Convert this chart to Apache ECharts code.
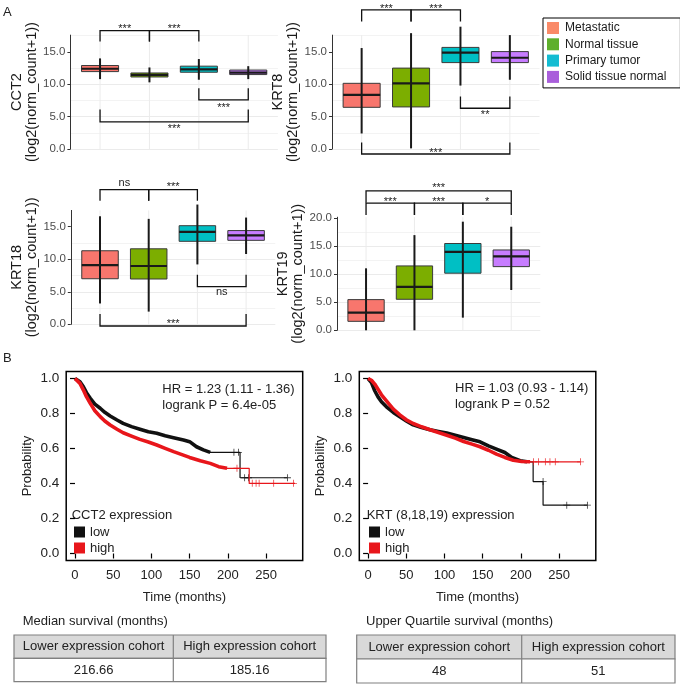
<!DOCTYPE html>
<html><head><meta charset="utf-8">
<script src="https://cdn.jsdelivr.net/npm/echarts@6/dist/echarts.min.js"></script>
<style>html,body{margin:0;padding:0;background:#fff}#c{width:680px;height:685px}</style>
</head><body><div id="c"></div>
<script>
// ---------------- DATA ----------------
const groups = ['Metastatic', 'Normal tissue', 'Primary tumor', 'Solid tissue normal'];
const genes = ['CCT2', 'KRT8', 'KRT18', 'KRT19'];
// per group: [whiskerLow, Q1, median, Q3, whiskerHigh]
const cct2Stats = [[10.8, 11.96, 12.4, 12.9, 14.0], [10.3, 11.13, 11.45, 11.75, 12.6], [10.7, 11.86, 12.3, 12.8, 13.9], [10.8, 11.5, 11.8, 12.2, 12.8]];
const krt8Stats = [[2.4, 6.44, 8.35, 10.15, 15.6], [0.1, 6.5, 10.15, 12.5, 17.9], [9.8, 13.35, 14.9, 15.7, 18.9], [10.7, 13.35, 14.1, 15.05, 17.6]];
const krt18Stats = [[3.2, 7.0, 9.1, 11.3, 16.6], [1.95, 6.96, 8.96, 11.6, 16.2], [9.2, 12.75, 14.2, 15.15, 18.4], [10.8, 12.9, 13.67, 14.4, 16.4]];
const krt19Stats = [[0, 1.6, 3.15, 5.48, 11.07], [0, 5.54, 7.74, 11.5, 17.0], [2.26, 10.2, 14.0, 15.5, 19.4], [7.2, 11.37, 13.2, 14.35, 18.5]];
// significance brackets: [fromGroup, toGroup, lineValue, legEndValue, label, labelValue]
const cct2Sig = [[1, 2, 18.3, 16.6, '***', 19.0], [2, 3, 18.3, 16.6, '***', 19.0], [3, 4, 7.6, 9.4, '***', 6.8], [1, 4, 4.2, 6.1, '***', 3.45]];
const krt8Sig = [[1, 2, 21.5, 19.7, '***', 22.1], [2, 3, 21.5, 19.7, '***', 22.1], [3, 4, 6.3, 8.1, '**', 5.6], [1, 4, -0.77, 1.0, '***', -0.15]];
const krt18Sig = [[1, 2, 20.7, 19.0, 'ns', 21.7], [2, 3, 20.7, 19.0, '***', 21.5], [3, 4, 5.8, 7.6, 'ns', 4.85], [1, 4, -0.26, 1.6, '***', 0.4]];
const krt19Sig = [[1, 4, 24.9, 22.8, '***', 25.8], [1, 2, 22.7, 20.6, '***', 23.4], [2, 3, 22.7, 20.6, '***', 23.4], [3, 4, 22.7, 20.6, '*', 23.4]];
const boxTicks = [0, 5, 10, 15, 20];
const panelMax = [17.6, 17.6, 17.5, 20.2];

// Kaplan-Meier curves: [months, probability]
const kmCct2Low = [[0, 1], [6.5, 0.982], [11, 0.953], [15, 0.919], [20, 0.887], [26, 0.854], [33, 0.83], [39, 0.807], [46, 0.786], [55, 0.763], [63, 0.744], [74, 0.725], [85, 0.71], [96, 0.696], [107, 0.687], [118, 0.673], [129, 0.662], [142, 0.649], [150, 0.639], [159, 0.61], [168, 0.592], [177, 0.578], [216, 0.578], [216, 0.433], [278, 0.433]];
const kmCct2High = [[0, 1], [6.5, 0.972], [11, 0.934], [15, 0.896], [20, 0.858], [26, 0.816], [33, 0.782], [39, 0.757], [46, 0.734], [55, 0.71], [63, 0.69], [74, 0.671], [85, 0.652], [96, 0.637], [107, 0.62], [118, 0.601], [129, 0.582], [140, 0.565], [150, 0.549], [164, 0.53], [177, 0.515], [188, 0.496], [199, 0.487], [228, 0.487], [228, 0.401], [288, 0.401]];
const kmCct2LowCensor = [[208, 0.578], [214, 0.578], [222, 0.433], [227, 0.433], [278, 0.433]];
const kmCct2HighCensor = [[212, 0.487], [232, 0.401], [237, 0.401], [241, 0.401], [260, 0.401], [286, 0.401]];
const kmKrtLow = [[0, 1], [4.4, 0.977], [8.7, 0.93], [13, 0.895], [17.5, 0.867], [24, 0.838], [33, 0.806], [41.5, 0.781], [50, 0.758], [59, 0.735], [70, 0.72], [81, 0.707], [92, 0.697], [103, 0.688], [114, 0.676], [125, 0.663], [136, 0.65], [146.5, 0.638], [157.5, 0.615], [168, 0.596], [179, 0.577], [188, 0.549], [199, 0.53], [208, 0.524], [216, 0.524], [216, 0.411], [229, 0.411], [229, 0.276], [287, 0.276]];
const kmKrtHigh = [[0, 1], [4.4, 0.99], [8.7, 0.968], [13, 0.939], [17.5, 0.907], [24, 0.872], [33, 0.825], [41.5, 0.792], [50, 0.764], [59, 0.743], [70, 0.724], [81, 0.707], [92, 0.691], [103, 0.676], [114, 0.659], [125, 0.64], [136, 0.625], [146.5, 0.61], [157.5, 0.59], [168, 0.568], [179, 0.549], [190, 0.533], [201, 0.526], [212, 0.524], [278, 0.524]];
const kmKrtLowCensor = [[229, 0.411], [260, 0.276], [287, 0.276]];
const kmKrtHighCensor = [[216.5, 0.524], [223, 0.524], [232, 0.524], [238, 0.524], [245, 0.524], [278, 0.524]];
const kmDenseEnd = [205, 205, 208, 212];
const kmXTicks = [0, 50, 100, 150, 200, 250];
const kmYTicks = [0, 0.2, 0.4, 0.6, 0.8, 1.0];
const kmNames = ['low', 'high'];
const kmLeftNotes = ['HR = 1.23 (1.11 - 1.36)', 'logrank P = 6.4e-05'];
const kmRightNotes = ['HR = 1.03 (0.93 - 1.14)', 'logrank P = 0.52'];
const kmLeftLegendTitle = 'CCT2 expression';
const kmRightLegendTitle = 'KRT (8,18,19) expression';

// tables
const leftTableTitle = 'Median survival (months)';
const rightTableTitle = 'Upper Quartile survival (months)';
const tableHeaders = ['Lower expression cohort', 'High expression cohort'];
const leftTableValues = ['216.66', '185.16'];
const rightTableValues = ['48', '51'];

// ---------------- STYLE / LAYOUT ----------------
const FONT = '"Liberation Sans", Arial, Helvetica, sans-serif';
const boxColors = ['#F8766D', '#7CAE00', '#00BFC4', '#C77CFF'];
const legendColors = ['#FA8A68', '#5EAF2C', '#14BCD2', '#A95EDB'];
const kmColors = ['#111111', '#E8161B'];
const boxGrids = [
  {left: 70.4, top: 35.1, width: 207.5, height: 113.9},
  {left: 332, top: 35.1, width: 207.5, height: 113.9},
  {left: 70.8, top: 210.4, width: 204.5, height: 113.9},
  {left: 337, top: 217.2, width: 203.3, height: 113.1}
];
const kmGrids = [
  {left: 66.2, top: 371.5, width: 236.5, height: 189},
  {left: 359.3, top: 371.5, width: 236.5, height: 189}
];

const statsAll = [cct2Stats, krt8Stats, krt18Stats, krt19Stats];
const sigAll = [cct2Sig, krt8Sig, krt18Sig, krt19Sig];

function renderBox(params, api) {
  const x = api.value(0);
  const bw = api.size([1, 0])[0] * 0.75;
  const c = api.coord([x, api.value(3)]);
  const yLo = api.coord([x, api.value(1)])[1];
  const yQ1 = api.coord([x, api.value(2)])[1];
  const yQ3 = api.coord([x, api.value(4)])[1];
  const yHi = api.coord([x, api.value(5)])[1];
  const cs = params.coordSys;
  return {type: 'group', children: [
    {type: 'line', shape: {x1: c[0], y1: cs.y, x2: c[0], y2: cs.y + cs.height}, style: {stroke: '#ebebeb', lineWidth: 1}},
    {type: 'rect', shape: {x: c[0] - bw / 2, y: yQ3, width: bw, height: yQ1 - yQ3}, style: {fill: api.visual('color'), stroke: '#3a3a3a', lineWidth: 1}},
    {type: 'line', shape: {x1: c[0], y1: yHi, x2: c[0], y2: yLo}, style: {stroke: '#1a1a1a', lineWidth: 2}},
    {type: 'line', shape: {x1: c[0] - bw / 2, y1: c[1], x2: c[0] + bw / 2, y2: c[1]}, style: {stroke: '#1a1a1a', lineWidth: 2.2}}
  ]};
}
function makeBracket(sig) {
  return function (params, api) {
    const s = sig[params.dataIndex];
    const a = api.coord([s[0], s[3]]), b = api.coord([s[0], s[2]]);
    const c = api.coord([s[1], s[2]]), d = api.coord([s[1], s[3]]);
    const t = api.coord([(s[0] + s[1]) / 2, s[5]]);
    const dy = s[4].indexOf('*') >= 0 ? 2.5 : -0.5;
    return {type: 'group', children: [
      {type: 'polyline', shape: {points: [a, b, c, d]}, style: {stroke: '#111', lineWidth: 1.3, fill: null}},
      {type: 'text', x: t[0], y: t[1] + dy, style: {text: s[4], fontSize: 11, fontFamily: FONT, fill: '#222', align: 'center', verticalAlign: 'middle'}}
    ]};
  };
}

const grids = [], xAxes = [], yAxes = [], series = [];
boxGrids.forEach((g, i) => {
  grids.push(Object.assign({outerBoundsMode: 'none', containLabel: false}, g));
  xAxes.push({gridIndex: i, type: 'value', min: 0.4, max: 4.6, show: false});
  yAxes.push({
    gridIndex: i, type: 'value', min: 0, max: panelMax[i], interval: 5,
    name: genes[i] + '\n(log2(norm_count+1))', nameLocation: 'middle', nameRotate: 90, nameGap: 27,
    nameTextStyle: {fontSize: 14.5, lineHeight: 15, color: '#1a1a1a', fontFamily: FONT},
    axisLine: {show: true, lineStyle: {color: '#333', width: 1}},
    axisTick: {show: true, length: 3, lineStyle: {color: '#333'}, customValues: boxTicks.filter(v => v <= panelMax[i])},
    axisLabel: {fontSize: 11.5, color: '#4d4d4d', margin: 5, fontFamily: FONT, formatter: v => v.toFixed(1), customValues: boxTicks.filter(v => v <= panelMax[i])},
    splitLine: {show: true, showMaxLine: false, lineStyle: {color: '#ebebeb', width: 1}},
    minorTick: {show: false, splitNumber: 2},
    minorSplitLine: {show: true, lineStyle: {color: '#f3f3f3', width: 1}}
  });
  groups.forEach((name, j) => {
    series.push({type: 'custom', name: name, xAxisIndex: i, yAxisIndex: i, itemStyle: {color: boxColors[j]},
      data: [[j + 1].concat(statsAll[i][j])], renderItem: renderBox, z: 2, silent: true});
  });
  series.push({type: 'custom', name: 'sig' + i, xAxisIndex: i, yAxisIndex: i, silent: true, z: 3,
    data: sigAll[i].map(s => [s[0], s[1], s[2], s[3]]), renderItem: makeBracket(sigAll[i])});
});

const plusPath = 'path://M-0.12,-1H0.12V-0.12H1V0.12H0.12V1H-0.12V0.12H-1V-0.12H-0.12Z';
const kmSets = [[kmCct2Low, kmCct2High, kmCct2LowCensor, kmCct2HighCensor], [kmKrtLow, kmKrtHigh, kmKrtLowCensor, kmKrtHighCensor]];
kmGrids.forEach((g, k) => {
  const gi = 4 + k;
  grids.push(Object.assign({outerBoundsMode: 'none', containLabel: false, show: true, borderColor: '#000', borderWidth: 1.5, backgroundColor: 'transparent'}, g));
  xAxes.push({gridIndex: gi, type: 'value', min: -11.5, max: 298,
    name: 'Time (months)', nameLocation: 'middle', nameGap: 30,
    nameTextStyle: {fontSize: 13, color: '#222', fontFamily: FONT},
    axisLine: {show: false}, splitLine: {show: false},
    axisTick: {show: true, length: 5, lineStyle: {color: '#000', width: 1.2}, customValues: kmXTicks},
    axisLabel: {fontSize: 13, color: '#222', margin: 8, fontFamily: FONT, customValues: kmXTicks}});
  yAxes.push({gridIndex: gi, type: 'value', min: -0.04, max: 1.04,
    name: 'Probability', nameLocation: 'middle', nameRotate: 90, nameGap: 32,
    nameTextStyle: {fontSize: 13, color: '#222', fontFamily: FONT},
    axisLine: {show: false}, splitLine: {show: false},
    axisTick: {show: true, length: 5, lineStyle: {color: '#000', width: 1.2}, customValues: kmYTicks},
    axisLabel: {fontSize: 13.5, color: '#222', margin: 7, fontFamily: FONT, formatter: v => v.toFixed(1), customValues: kmYTicks}});
  for (let s = 0; s < 2; s++) {
    const data = kmSets[k][s];
    const col = kmColors[s];
    const dense = kmDenseEnd[k * 2 + s];
    series.push({type: 'line', name: kmNames[s], xAxisIndex: gi, yAxisIndex: gi, data: data, showSymbol: false, symbol: 'none',
      lineStyle: {color: col, width: 1.2}, itemStyle: {color: col}, z: 3 + s, silent: true});
    series.push({type: 'line', name: kmNames[s] + '_dense', xAxisIndex: gi, yAxisIndex: gi, data: data.filter(p => p[0] <= dense), showSymbol: false, symbol: 'none',
      lineStyle: {color: col, width: 3.6, join: 'round'}, itemStyle: {color: col}, z: 3 + s, silent: true});
    series.push({type: 'scatter', name: kmNames[s] + '_censor', xAxisIndex: gi, yAxisIndex: gi, data: kmSets[k][2 + s], symbol: plusPath, symbolSize: 7,
      itemStyle: {color: col}, z: 3 + s, silent: true});
  }
});

function txt(text, x, y, size, align, extra) {
  return Object.assign({type: 'text', x: x, y: y, silent: true,
    style: {text: text, fontSize: size, fontFamily: FONT, fill: '#222', align: align || 'left', verticalAlign: 'middle'}}, extra || {});
}
const graphics = [];
graphics.push(txt('A', 3, 12.5, 13));
graphics.push(txt('B', 3, 358.5, 13));
kmLeftNotes.forEach((t, i) => graphics.push(txt(t, 162.3, 389.3 + i * 16, 13)));
kmRightNotes.forEach((t, i) => graphics.push(txt(t, 455, 388.3 + i * 16, 13)));
graphics.push(txt(kmLeftLegendTitle, 71.7, 515, 13));
graphics.push(txt(kmRightLegendTitle, 366.7, 515, 13));

function table(title, values, L) {
  graphics.push(txt(title, L.titleX, 621.7, 13));
  graphics.push({type: 'rect', silent: true, shape: {x: L.x, y: L.y, width: L.w, height: L.h1}, style: {fill: '#d9d9d9', stroke: '#808080', lineWidth: 1.2}});
  graphics.push({type: 'rect', silent: true, shape: {x: L.x, y: L.y + L.h1, width: L.w, height: L.h2}, style: {fill: '#ffffff', stroke: '#808080', lineWidth: 1.2}});
  graphics.push({type: 'line', silent: true, shape: {x1: L.x + L.div, y1: L.y, x2: L.x + L.div, y2: L.y + L.h1 + L.h2}, style: {stroke: '#808080', lineWidth: 1.2}});
  const cx = [L.x + L.div / 2, L.x + L.div + (L.w - L.div) / 2];
  tableHeaders.forEach((h, i) => graphics.push(txt(h, cx[i], L.y + L.h1 / 2, 13, 'center')));
  values.forEach((v, i) => graphics.push(txt(v, cx[i], L.y + L.h1 + L.h2 / 2, 13, 'center')));
}
table(leftTableTitle, leftTableValues, {titleX: 22.7, x: 14, y: 635, w: 312, div: 159.3, h1: 23.3, h2: 23.4});
table(rightTableTitle, rightTableValues, {titleX: 366, x: 356.7, y: 635, w: 318.3, div: 165, h1: 24, h2: 24});

const option = {
  animation: false,
  backgroundColor: '#fff',
  textStyle: {fontFamily: FONT},
  grid: grids, xAxis: xAxes, yAxis: yAxes, series: series, graphic: graphics,
  legend: [
    {orient: 'vertical', left: 543, top: 18, icon: 'rect', itemWidth: 12, itemHeight: 12, itemGap: 4.3,
      padding: [4, 14, 5, 4], borderColor: '#000', borderWidth: 1, selectedMode: false,
      textStyle: {fontSize: 12, color: '#1a1a1a', fontFamily: FONT, padding: [0, 0, 0, 1]},
      data: groups.map((g, j) => ({name: g, itemStyle: {color: legendColors[j], borderWidth: 0}}))},
    {orient: 'vertical', left: 74, top: 525.5, icon: 'rect', itemWidth: 11, itemHeight: 11, itemGap: 3, padding: 0, selectedMode: false,
      textStyle: {fontSize: 13, color: '#222', fontFamily: FONT},
      data: kmNames.map((n, s) => ({name: n, itemStyle: {color: kmColors[s], borderWidth: 0}}))},
    {orient: 'vertical', left: 369, top: 525.5, icon: 'rect', itemWidth: 11, itemHeight: 11, itemGap: 3, padding: 0, selectedMode: false,
      textStyle: {fontSize: 13, color: '#222', fontFamily: FONT},
      data: kmNames.map((n, s) => ({name: n, itemStyle: {color: kmColors[s], borderWidth: 0}}))}
  ]
};
const chart = echarts.init(document.getElementById('c'), null, {renderer: 'canvas'});
chart.setOption(option);
</script></body></html>
